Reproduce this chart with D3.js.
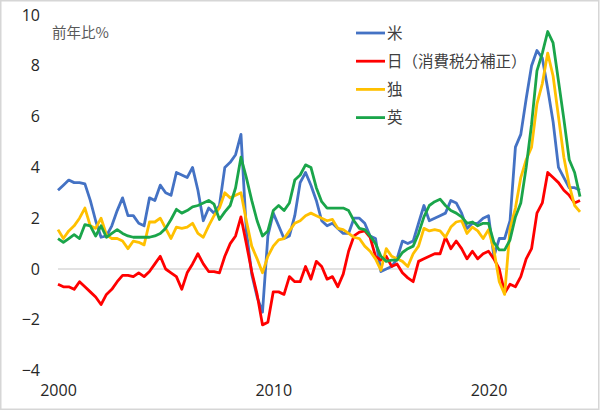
<!DOCTYPE html>
<html>
<head>
<meta charset="utf-8">
<script src="https://cdn.jsdelivr.net/npm/d3@7"></script>
<style>
  body { margin: 0; background: #fff; }
  svg { display: block; font-family: "Noto Sans CJK JP", "Noto Sans", sans-serif; }
</style>
</head>
<body>
<svg width="600" height="411"></svg>
<script>
// quarterly, 2000Q1 .. 2024Q2
var startYear = 2000;
var seriesNames = ["米", "日（消費税分補正）", "独", "英"];
var seriesColors = ["#4472C4", "#FF0000", "#FFC000", "#1AA54A"];

var us = [3.1, 3.3, 3.5, 3.4, 3.4, 3.35, 2.7, 1.9, 1.25, 1.3,
  1.7, 2.3, 2.8, 2.1, 2.1, 1.8, 1.7, 2.8, 2.7, 3.3,
  3.0, 2.9, 3.8, 3.7, 3.6, 4.0, 3.1, 1.9, 2.4, 2.2,
  2.5, 4.0, 4.2, 4.5, 5.3, 1.5, -0.2, -1.1, -1.7, 1.3,
  2.2, 1.7, 1.2, 1.3, 2.1, 3.4, 3.8, 3.3, 2.7, 1.9,
  1.7, 1.8, 1.6, 1.4, 1.4, 2.0, 2.0, 1.8, 1.3, 1.2,
  -0.1, 0.0, 0.1, 0.4, 1.1, 1.0, 1.1, 1.8, 2.5, 1.9,
  2.0, 2.1, 2.2, 2.7, 2.6, 2.2, 1.6, 1.8, 1.8, 2.0,
  2.1, 0.5, 1.2, 1.2, 1.9, 4.8, 5.3, 6.7, 8.0, 8.6,
  8.3, 7.1, 5.8, 4.0, 3.6, 3.2, 3.2, 3.1];

var japan = [-0.6, -0.7, -0.7, -0.8, -0.5, -0.7, -0.9, -1.1, -1.4, -1.0,
  -0.8, -0.5, -0.25, -0.25, -0.3, -0.15, -0.3, -0.1, 0.2, 0.5,
  0.0, -0.15, -0.3, -0.8, -0.15, 0.2, 0.6, 0.2, -0.1, -0.1,
  -0.15, 0.5, 1.0, 1.3, 2.05, 1.0, -0.1, -1.0, -2.2, -2.1,
  -0.9, -0.9, -1.0, -0.3, -0.5, -0.5, 0.1, -0.4, 0.3, 0.1,
  -0.4, -0.3, -0.7, -0.2, 0.7, 1.3, 1.45, 1.5, 1.25, 0.5,
  0.35, 0.5, 0.1, 0.2, -0.15, -0.35, -0.5, 0.3, 0.4, 0.5,
  0.6, 0.6, 1.25, 0.8, 1.1, 0.8, 0.4, 0.7, 0.4, 0.6,
  0.7, 0.4, 0.0, -0.95, -0.6, -0.7, -0.3, 0.4, 0.8, 2.2,
  2.6, 3.8, 3.6, 3.4, 3.1, 2.9, 2.6, 2.7];

var germany = [1.55, 1.2, 1.5, 1.7, 2.0, 2.4, 1.7, 1.6, 2.0, 1.35,
  1.2, 1.2, 1.1, 0.8, 1.1, 1.05, 0.95, 1.85, 1.85, 2.0,
  1.6, 1.2, 1.65, 1.6, 1.65, 1.8, 1.4, 1.25, 1.7, 2.1,
  2.4, 3.0, 2.8, 2.9, 3.0, 1.9, 0.9, 0.4, -0.15, 0.5,
  0.9, 1.15, 1.2, 1.5, 1.8, 1.9, 2.1, 2.2, 2.1, 2.0,
  1.9, 1.95, 1.6, 1.55, 1.4, 1.25, 1.2, 0.9, 0.7, 0.4,
  -0.05, 0.8, 0.5, 0.4, 0.3, 0.1, 0.6, 0.9, 1.6, 1.5,
  1.55, 1.5, 1.25, 1.65, 1.85, 1.9, 1.4, 1.65, 1.5, 1.2,
  1.55, 0.75, -0.5, -1.0, 1.6, 2.4, 3.6, 4.3, 4.8, 6.5,
  7.3, 8.5, 7.6, 6.0, 4.4, 3.3, 2.5, 2.25];

var uk = [1.2, 1.05, 1.2, 1.35, 1.2, 1.75, 1.7, 1.3, 1.7, 1.25,
  1.4, 1.55, 1.4, 1.3, 1.25, 1.25, 1.25, 1.25, 1.3, 1.4,
  1.6, 1.95, 2.35, 2.2, 2.3, 2.45, 2.5, 2.6, 2.7, 2.55,
  1.95, 2.25, 2.5, 3.2, 4.4, 3.6, 2.7, 1.9, 1.3, 1.5,
  2.3, 2.5, 2.3, 2.6, 3.5, 3.7, 4.1, 4.0, 3.2, 2.65,
  2.4, 2.4, 2.4, 2.4, 2.3, 1.9, 1.6, 1.55, 1.3, 1.0,
  0.5, 0.3, 0.35, 0.35, 0.65, 0.8, 0.9, 1.4, 2.05, 2.5,
  2.65, 2.75, 2.5, 2.3, 2.2, 2.05, 1.8, 1.85, 1.7, 1.8,
  1.8, 1.05, 0.75, 0.75, 1.15, 2.05, 2.6, 4.0, 5.7, 7.8,
  8.5, 9.35, 8.9, 7.4, 5.9, 4.3, 3.8, 2.85];

var yTicks = [-4, -2, 0, 2, 4, 6, 8, 10];
var xTicks = [2000, 2010, 2020];

var svg = d3.select("svg");

// light frame round the picture
svg.append("rect")
  .attr("x", 0.75).attr("y", 0.75)
  .attr("width", 598).attr("height", 408.5)
  .attr("fill", "none")
  .attr("stroke", "#d6d6d6")
  .attr("stroke-width", 1.5);

var x = d3.scaleLinear()
  .domain([2000, 2024.25])
  .range([58, 580]);

var y = d3.scaleLinear()
  .domain([-4, 10])
  .range([370.6, 15]);

// y axis labels only, no line
var yAxis = svg.append("g")
  .attr("transform", "translate(40,0)")
  .call(d3.axisLeft(y).tickValues(yTicks).tickSize(0).tickPadding(0));
yAxis.select(".domain").remove();
yAxis.selectAll("text")
  .attr("fill", "#262626")
  .style("font-size", "16px")
  .style("font-family", "'Open Sans', 'Noto Sans', sans-serif");

// x axis labels below the plot
var xAxis = svg.append("g")
  .attr("transform", "translate(0,385)")
  .call(d3.axisBottom(x).tickValues(xTicks).tickFormat(d3.format("d")).tickSize(0).tickPadding(0));
xAxis.select(".domain").remove();
xAxis.selectAll("text")
  .attr("fill", "#262626")
  .style("font-size", "16px")
  .style("font-family", "'Open Sans', 'Noto Sans', sans-serif");

// zero line
svg.append("line")
  .attr("x1", x(2000)).attr("x2", x(2024.25))
  .attr("y1", y(0)).attr("y2", y(0))
  .attr("stroke", "#d9d9d9")
  .attr("stroke-width", 1.5);

// unit label
svg.append("text")
  .attr("x", 52).attr("y", 38)
  .attr("fill", "#595959")
  .style("font-size", "14.5px")
  .text("前年比%");

var line = d3.line()
  .x(function (d, i) { return x(startYear + i / 4); })
  .y(function (d) { return y(d); });

var allSeries = [us, japan, germany, uk];

allSeries.forEach(function (s, k) {
  svg.append("path")
    .datum(s)
    .attr("fill", "none")
    .attr("stroke", seriesColors[k])
    .attr("stroke-width", 2.8)
    .attr("stroke-linejoin", "round")
    .attr("d", line);
});

// legend
var legend = svg.append("g");
seriesNames.forEach(function (name, k) {
  var cy = 33 + k * 28.2;
  legend.append("line")
    .attr("x1", 356).attr("x2", 385)
    .attr("y1", cy).attr("y2", cy)
    .attr("stroke", seriesColors[k])
    .attr("stroke-width", 2.8);
  legend.append("text")
    .attr("x", 387).attr("y", cy)
    .attr("dy", "0.36em")
    .attr("fill", "#404040")
    .style("font-size", "15.5px")
    .text(name);
});
</script>
</body>
</html>
